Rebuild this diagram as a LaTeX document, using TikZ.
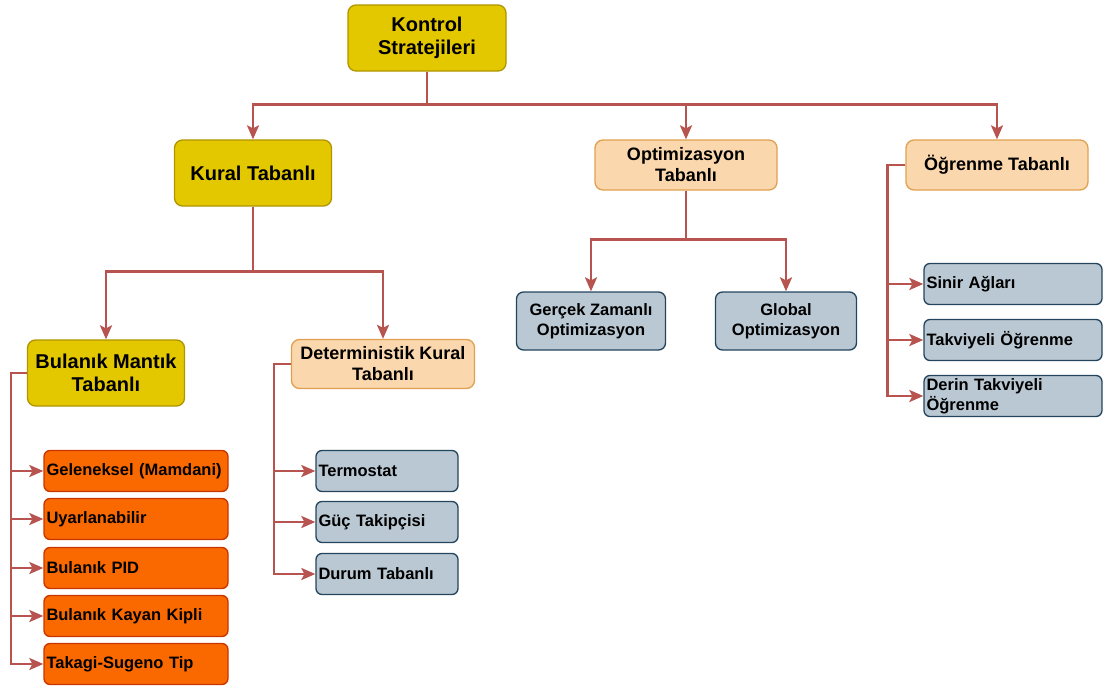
\documentclass[tikz,border=0pt]{standalone}
\usepackage{fontspec}
\setmainfont{Liberation Sans}
\usepackage{xcolor}
\usetikzlibrary{arrows.meta, positioning}
\definecolor{yelfill}{HTML}{E3C800}
\definecolor{yelline}{HTML}{B09500}
\definecolor{peachfill}{HTML}{FAD7AC}
\definecolor{peachline}{HTML}{E0A050}
\definecolor{greyfill}{HTML}{BAC8D3}
\definecolor{greyline}{HTML}{23445D}
\definecolor{orfill}{HTML}{FA6800}
\definecolor{orline}{HTML}{C73500}
\definecolor{linkcol}{HTML}{B85450}
\tikzset{
    yelbox/.style={rounded corners=8pt, draw=yelline, fill=yelfill, line width=1.3pt, align=center, inner sep=0pt, font=\fontsize{20}{23}\selectfont\bfseries},
    peachbox/.style={rounded corners=8pt, draw=peachline, fill=peachfill, line width=1.3pt, align=center, inner sep=0pt, font=\fontsize{18}{21}\selectfont\bfseries},
    greybox/.style={rounded corners=7pt, draw=greyline, fill=greyfill, line width=1.3pt, align=center, inner sep=0pt, font=\fontsize{16.5}{20}\selectfont\bfseries},
    leaf/.style={rounded corners=6pt, line width=1.3pt, align=left, inner xsep=2.5pt, inner ysep=0pt, minimum height=41, font=\fontsize{16.5}{20}\selectfont\bfseries},
    orbox/.style={leaf, draw=orline, fill=orfill, text width=179},
    greyleaf/.style={leaf, draw=greyline, fill=greyfill},
    link/.style={draw=linkcol, line width=2.5pt, -{Stealth[length=14pt, width=12pt, inset=3pt]}}
}
\begin{document}
\begin{tikzpicture}[x=1pt, y=-1pt]
    \useasboundingbox (0,0) rectangle (1103,688);

    % Top levels
    \node[yelbox, minimum width=158, minimum height=66] (ks) at (427,38) {Kontrol\\Stratejileri};
    \node[yelbox, minimum width=157, minimum height=66] (kural) at (253,173) {Kural Tabanlı};
    \node[peachbox, minimum width=182, minimum height=50] (optim) at (686,165) {Optimizasyon\\Tabanlı};
    \node[peachbox, minimum width=182, minimum height=50] (ogren) at (997,165) {Öğrenme Tabanlı};

    \node[yelbox, minimum width=157, minimum height=66] (bulanik) at (106,373) {Bulanık Mantık\\Tabanlı};
    \node[peachbox, minimum width=183, minimum height=49] (determ) at (383,364) {Deterministik Kural\\Tabanlı};
    \node[greybox, minimum width=149, minimum height=58] (gercek) at (591,321) {Gerçek Zamanlı\\Optimizasyon};
    \node[greybox, minimum width=141, minimum height=58] (global) at (786,321) {Global\\Optimizasyon};

    % Leaves
    \foreach \n/\t/\y in {gelenek/Geleneksel (Mamdani)/471, uyarla/Uyarlanabilir/519, bpid/Bulanık PID/568, bkayan/Bulanık Kayan Kipli/616, takagi/Takagi-Sugeno Tip/664}
        \node[orbox] (\n) at (136,\y) {\t};
    \foreach \n/\t/\y in {termo/Termostat/471, guc/Güç Takipçisi/522, durum/Durum Tabanlı/574}
        \node[greyleaf, text width=137] (\n) at (387,\y) {\t};
    \node[greyleaf, text width=173] (sinir) at (1013,284) {Sinir Ağları};
    \node[greyleaf, text width=173] (takviye) at (1013,340) {Takviyeli Öğrenme};
    \node[greyleaf, text width=173] (derin) at (1013,396) {Derin Takviyeli\\Öğrenme};

    % Connectors
    \foreach \n in {kural, optim, ogren}
        \draw[link] (ks.south) -- ++(0,33) -| (\n.north);
    \foreach \n in {bulanik, determ}
        \draw[link] (kural.south) -- ++(0,65) -| (\n.north);
    \foreach \n in {gercek, global}
        \draw[link] (optim.south) -- ++(0,49) -| (\n.north);
    \foreach \n in {gelenek, uyarla, bpid, bkayan, takagi}
        \draw[link] (bulanik.west) -- ++(-16,0) |- (\n.west);
    \foreach \n in {termo, guc, durum}
        \draw[link] (determ.west) -- ++(-17,0) |- (\n.west);
    \foreach \n in {sinir, takviye, derin}
        \draw[link] (ogren.west) -- ++(-18,0) |- (\n.west);
\end{tikzpicture}
\end{document}
